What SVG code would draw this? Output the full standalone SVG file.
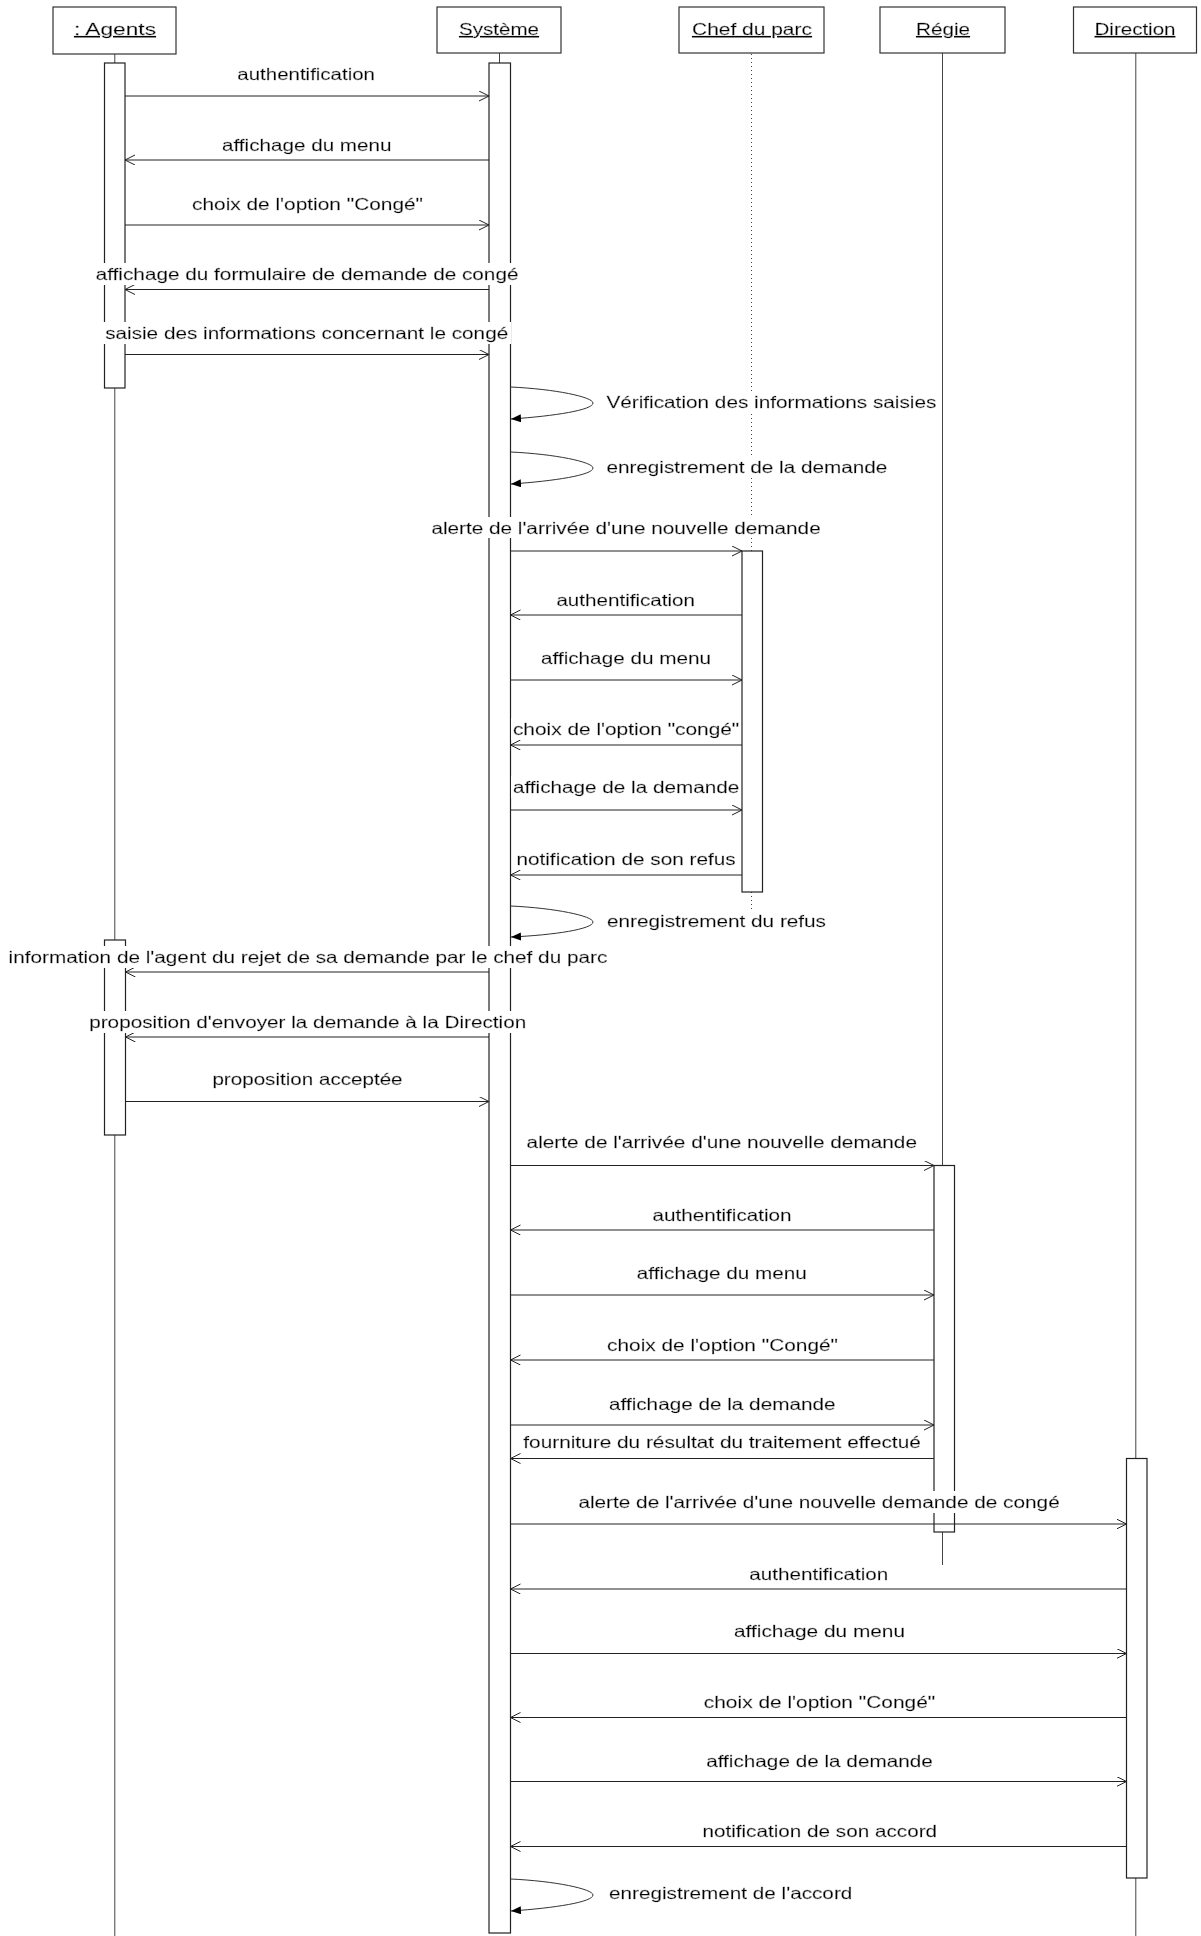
<svg xmlns="http://www.w3.org/2000/svg" width="1201" height="1936" viewBox="0 0 1201 1936">
<style>
.t{font-family:"Liberation Sans",Arial,sans-serif;font-size:16.5px;fill:#000;stroke:#000;stroke-width:0.3;filter:url(#bg)}
.h{text-decoration:underline}
.box{fill:#fff;stroke:#333;stroke-width:1.2}
.act{fill:#fff;stroke:#222;stroke-width:1.2}
.life{stroke:#444;stroke-width:1;fill:none}
.dot{stroke:#444;stroke-width:1;stroke-dasharray:1 3;fill:none}
.m{stroke:#222;stroke-width:1;fill:none;marker-end:url(#open)}
.s{stroke:#333;stroke-width:1;fill:none;marker-end:url(#fill)}
</style>
<defs>
<filter id="bg" x="-0.005" y="-0.08" width="1.01" height="1.16"><feFlood flood-color="#fff"/><feComposite in="SourceGraphic" operator="over"/></filter>
<marker id="open" markerUnits="userSpaceOnUse" markerWidth="12" markerHeight="12" refX="10" refY="5" orient="auto"><path d="M0,0 L10,5 L0,10" fill="none" stroke="#222" stroke-width="1"/></marker>
<marker id="fill" markerUnits="userSpaceOnUse" markerWidth="12" markerHeight="10" refX="10" refY="4" orient="auto"><path d="M0,0 L10,4 L0,8 Z" fill="#000"/></marker>
</defs>
<rect width="1201" height="1936" fill="#fff"/>

<g id="agents">
<line class="life" x1="114.8" y1="54" x2="114.8" y2="1936"/>
<rect class="box" x="53" y="7" width="123" height="47"/>
<text class="t h" x="74" y="35" textLength="82" lengthAdjust="spacingAndGlyphs">: Agents</text>
<rect class="act" x="104.5" y="63" width="20.5" height="325"/>
<rect class="act" x="104.5" y="940" width="21" height="195"/>
</g>

<g id="systeme">
<line class="life" x1="499.5" y1="53" x2="499.5" y2="63"/>
<rect class="box" x="437" y="7" width="124" height="46"/>
<text class="t h" x="459" y="35" textLength="80" lengthAdjust="spacingAndGlyphs">Système</text>
<rect class="act" x="489" y="63" width="21.5" height="1870"/>
</g>

<g id="chef">
<line class="dot" x1="751.5" y1="54" x2="751.5" y2="551"/>
<line class="dot" x1="751.5" y1="892" x2="751.5" y2="915"/>
<rect class="box" x="679" y="7" width="145" height="46"/>
<text class="t h" x="692" y="35" textLength="120" lengthAdjust="spacingAndGlyphs">Chef du parc</text>
<rect class="act" x="742" y="551" width="20.5" height="341"/>
</g>

<g id="regie">
<line class="life" x1="942.5" y1="53" x2="942.5" y2="1565"/>
<rect class="box" x="880" y="7" width="125" height="46"/>
<text class="t h" x="916" y="35" textLength="54" lengthAdjust="spacingAndGlyphs">Régie</text>
<rect class="act" x="934" y="1165.5" width="20.5" height="366.5"/>
</g>

<g id="direction">
<line class="life" x1="1135.8" y1="53" x2="1135.8" y2="1936"/>
<rect class="box" x="1073.5" y="7" width="123" height="46"/>
<text class="t h" x="1094.5" y="35" textLength="81" lengthAdjust="spacingAndGlyphs">Direction</text>
<rect class="act" x="1126.5" y="1458.5" width="20.5" height="419.5"/>
</g>

<g id="connectors">
<line class="m" x1="125" y1="96" x2="489" y2="96"/>
<line class="m" x1="489" y1="160" x2="125" y2="160"/>
<line class="m" x1="125" y1="225" x2="489" y2="225"/>
<line class="m" x1="489" y1="289.5" x2="125" y2="289.5"/>
<line class="m" x1="125" y1="354.5" x2="489" y2="354.5"/>
<path class="s" d="M510.5,387 C555,389 593,397 593,403 C593,410 555,416 511,419"/>
<path class="s" d="M510.5,452 C555,454 593,462 593,468 C593,475 555,481 511,484"/>
<line class="m" x1="510.5" y1="551" x2="742" y2="551"/>
<line class="m" x1="742" y1="615" x2="510.5" y2="615"/>
<line class="m" x1="510.5" y1="680" x2="742" y2="680"/>
<line class="m" x1="742" y1="745" x2="510.5" y2="745"/>
<line class="m" x1="510.5" y1="810" x2="742" y2="810"/>
<line class="m" x1="742" y1="875" x2="510.5" y2="875"/>
<path class="s" d="M510.5,906 C555,908 593,916 593,922 C593,929 555,935 511,937"/>
<line class="m" x1="489" y1="972" x2="125.5" y2="972"/>
<line class="m" x1="489" y1="1037" x2="125.5" y2="1037"/>
<line class="m" x1="125.5" y1="1101.5" x2="489" y2="1101.5"/>
<line class="m" x1="510.5" y1="1165.5" x2="934" y2="1165.5"/>
<line class="m" x1="934" y1="1230" x2="510.5" y2="1230"/>
<line class="m" x1="510.5" y1="1295" x2="934" y2="1295"/>
<line class="m" x1="934" y1="1360" x2="510.5" y2="1360"/>
<line class="m" x1="510.5" y1="1425" x2="934" y2="1425"/>
<line class="m" x1="934" y1="1458.5" x2="510.5" y2="1458.5"/>
<line class="m" x1="510.5" y1="1524" x2="1126.5" y2="1524"/>
<line class="m" x1="1126.5" y1="1589" x2="510.5" y2="1589"/>
<line class="m" x1="510.5" y1="1653.5" x2="1126.5" y2="1653.5"/>
<line class="m" x1="1126.5" y1="1717.5" x2="510.5" y2="1717.5"/>
<line class="m" x1="510.5" y1="1781.5" x2="1126.5" y2="1781.5"/>
<line class="m" x1="1126.5" y1="1846.5" x2="510.5" y2="1846.5"/>
<path class="s" d="M510.5,1879 C555,1881 593,1889 593,1895 C593,1902 555,1908 511,1911"/>

<text class="t" x="237.3" y="80" textLength="137.7" lengthAdjust="spacingAndGlyphs">authentification</text>
<text class="t" x="222" y="151" textLength="169.5" lengthAdjust="spacingAndGlyphs">affichage du menu</text>
<text class="t" x="192" y="209.5" textLength="231" lengthAdjust="spacingAndGlyphs">choix de l'option "Congé"</text>
<text class="t" x="95.7" y="280" textLength="422.8" lengthAdjust="spacingAndGlyphs">affichage du formulaire de demande de congé</text>
<text class="t" x="105.2" y="339" textLength="403" lengthAdjust="spacingAndGlyphs">saisie des informations concernant le congé</text>
<text class="t" x="606.4" y="407.5" textLength="330" lengthAdjust="spacingAndGlyphs">Vérification des informations saisies</text>
<text class="t" x="606.4" y="473" textLength="281" lengthAdjust="spacingAndGlyphs">enregistrement de la demande</text>
<text class="t" x="431.4" y="533.5" textLength="389.3" lengthAdjust="spacingAndGlyphs">alerte de l'arrivée d'une nouvelle demande</text>
<text class="t" x="556.4" y="605.7" textLength="138.6" lengthAdjust="spacingAndGlyphs">authentification</text>
<text class="t" x="541" y="663.8" textLength="170" lengthAdjust="spacingAndGlyphs">affichage du menu</text>
<text class="t" x="512.9" y="735" textLength="226.4" lengthAdjust="spacingAndGlyphs">choix de l'option "congé"</text>
<text class="t" x="512.9" y="793.2" textLength="226.4" lengthAdjust="spacingAndGlyphs">affichage de la demande</text>
<text class="t" x="516.4" y="864.6" textLength="219.3" lengthAdjust="spacingAndGlyphs">notification de son refus</text>
<text class="t" x="607" y="926.8" textLength="219" lengthAdjust="spacingAndGlyphs">enregistrement du refus</text>
<text class="t" x="8.6" y="963.3" textLength="598.7" lengthAdjust="spacingAndGlyphs">information de l'agent du rejet de sa demande par le chef du parc</text>
<text class="t" x="89.2" y="1028.3" textLength="437" lengthAdjust="spacingAndGlyphs">proposition d'envoyer la demande à la Direction</text>
<text class="t" x="212.4" y="1085" textLength="190.2" lengthAdjust="spacingAndGlyphs">proposition acceptée</text>
<text class="t" x="526.6" y="1148.3" textLength="390.4" lengthAdjust="spacingAndGlyphs">alerte de l'arrivée d'une nouvelle demande</text>
<text class="t" x="652.6" y="1220.7" textLength="139" lengthAdjust="spacingAndGlyphs">authentification</text>
<text class="t" x="636.8" y="1279" textLength="170" lengthAdjust="spacingAndGlyphs">affichage du menu</text>
<text class="t" x="607" y="1350.7" textLength="231" lengthAdjust="spacingAndGlyphs">choix de l'option "Congé"</text>
<text class="t" x="609" y="1410" textLength="226.5" lengthAdjust="spacingAndGlyphs">affichage de la demande</text>
<text class="t" x="523.3" y="1448.3" textLength="397.5" lengthAdjust="spacingAndGlyphs">fourniture du résultat du traitement effectué</text>
<text class="t" x="578.4" y="1508.3" textLength="481.3" lengthAdjust="spacingAndGlyphs">alerte de l'arrivée d'une nouvelle demande de congé</text>
<text class="t" x="749.3" y="1580" textLength="139" lengthAdjust="spacingAndGlyphs">authentification</text>
<text class="t" x="734" y="1637.3" textLength="171" lengthAdjust="spacingAndGlyphs">affichage du menu</text>
<text class="t" x="703.8" y="1708.3" textLength="231.4" lengthAdjust="spacingAndGlyphs">choix de l'option "Congé"</text>
<text class="t" x="706.2" y="1766.7" textLength="226.6" lengthAdjust="spacingAndGlyphs">affichage de la demande</text>
<text class="t" x="702.4" y="1837.3" textLength="234.7" lengthAdjust="spacingAndGlyphs">notification de son accord</text>
<text class="t" x="609" y="1899.3" textLength="243.3" lengthAdjust="spacingAndGlyphs">enregistrement de l'accord</text>
</g>
</svg>
